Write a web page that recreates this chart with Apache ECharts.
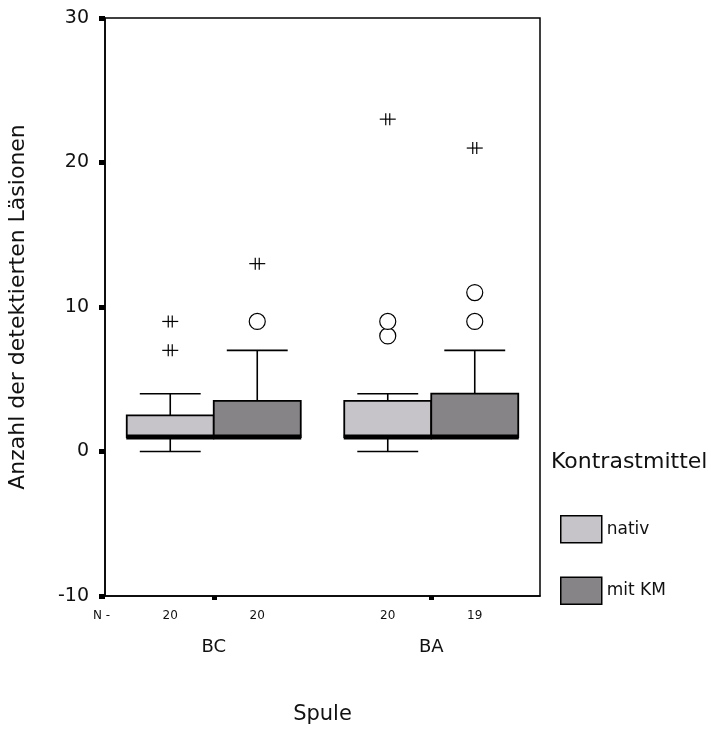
<!DOCTYPE html>
<html>
<head>
<meta charset="utf-8">
<script src="https://cdn.jsdelivr.net/npm/echarts@6/dist/echarts.min.js"></script>
<style>
  html, body { margin: 0; padding: 0; background: #fff; }
  #chart { width: 710px; height: 730px; }
</style>
</head>
<body>
<div id="chart"></div>
<script>
// Boxplot: Anzahl der detektierten Läsionen je Spule und Kontrastmittel

const categories = ['BC', 'BA'];
const groups = ['nativ', 'mit KM'];

// [min, Q1, median, Q3, max] per category
const boxNativ = [[0, 1, 1, 2.5, 4], [0, 1, 1, 3.5, 4]];
const boxMitKM = [[1, 1, 1, 3.5, 7], [1, 1, 1, 4, 7]];

// Ausreisser (Kreis) und Extremwerte (Stern) per category
const outNativ = [[], [8, 9]];
const extNativ = [[7, 9], [23]];
const outMitKM = [[9], [9, 11]];
const extMitKM = [[13], [21]];

const countsNativ = [20, 20];
const countsMitKM = [20, 19];

const yTicks = [-10, 0, 10, 20, 30];

const colorNativ = '#c6c4c8';
const colorMitKM = '#868486';
const fontFam = '"DejaVu Sans", Arial, sans-serif';
const boxHalf = 0.2; // half box width in category units

const chart = echarts.init(document.getElementById('chart'));

function renderBox(side) {
    return function (params, api) {
        const i = api.value(0);
        const halfW = api.size([boxHalf, 0])[0];
        const cx = api.coord([i + side * boxHalf, 0])[0];
        const y = k => api.coord([0, api.value(k)])[1];
        const yMin = y(1), yQ1 = y(2), yMed = y(3), yQ3 = y(4), yMax = y(5);
        const left = cx - halfW;
        const capHalf = halfW * 0.7;
        const line = { stroke: '#000', lineWidth: 1.6 };
        const children = [];
        if (yMax < yQ3) {
            children.push({ type: 'line', shape: { x1: cx, y1: yQ3, x2: cx, y2: yMax }, style: line });
            children.push({ type: 'line', shape: { x1: cx - capHalf, y1: yMax, x2: cx + capHalf, y2: yMax }, style: line });
        }
        if (yMin > yQ1) {
            children.push({ type: 'line', shape: { x1: cx, y1: yQ1, x2: cx, y2: yMin }, style: line });
            children.push({ type: 'line', shape: { x1: cx - capHalf, y1: yMin, x2: cx + capHalf, y2: yMin }, style: line });
        }
        children.push({
            type: 'rect',
            shape: { x: left, y: yQ3, width: halfW * 2, height: yQ1 - yQ3 },
            style: { fill: api.visual('color'), stroke: '#000', lineWidth: 1.8 }
        });
        children.push({
            type: 'rect',
            shape: { x: left - 0.5, y: yMed - 2.5, width: halfW * 2 + 1, height: 5 },
            style: { fill: '#000' }
        });
        return { type: 'group', children: children };
    };
}

function renderOutlier(params, api) {
    const p = api.coord([api.value(0), api.value(1)]);
    const kind = api.value(2);
    const s = { stroke: '#000', lineWidth: 1.2, fill: '#fff' };
    if (kind === 0) {
        return { type: 'circle', shape: { cx: p[0], cy: p[1], r: 8 }, style: s };
    }
    return {
        type: 'group',
        children: [
            { type: 'line', shape: { x1: p[0] - 8, y1: p[1], x2: p[0] + 8, y2: p[1] }, style: s },
            { type: 'line', shape: { x1: p[0] - 2, y1: p[1] - 6, x2: p[0] - 2, y2: p[1] + 6 }, style: s },
            { type: 'line', shape: { x1: p[0] + 2, y1: p[1] - 6, x2: p[0] + 2, y2: p[1] + 6 }, style: s }
        ]
    };
}

function boxData(boxes) {
    return boxes.map((b, i) => [i].concat(b));
}

function outlierData() {
    const rows = [];
    [[outNativ, extNativ, -1], [outMitKM, extMitKM, 1]].forEach(([outs, exts, side]) => {
        categories.forEach((c, i) => {
            outs[i].forEach(v => rows.push([i + side * boxHalf, v, 0]));
            exts[i].forEach(v => rows.push([i + side * boxHalf, v, 1]));
        });
    });
    return rows;
}

const boxCenters = [];
const boxCounts = [];
categories.forEach((c, i) => {
    boxCenters.push(i - boxHalf, i + boxHalf);
    boxCounts.push(countsNativ[i], countsMitKM[i]);
});

const option = {
    backgroundColor: '#fff',
    animation: false,
    textStyle: { fontFamily: fontFam, color: '#111' },
    title: {
        text: 'Kontrastmittel',
        left: 546,
        top: 446,
        textStyle: { fontFamily: fontFam, fontSize: 22, fontWeight: 'normal', color: '#111' }
    },
    legend: {
        data: groups,
        orient: 'vertical',
        left: 555,
        top: 510,
        itemWidth: 41,
        itemHeight: 27,
        itemGap: 33,
        icon: 'rect',
        itemStyle: { borderColor: '#000', borderWidth: 1.5 },
        textStyle: { fontFamily: fontFam, fontSize: 17, color: '#111' },
        selectedMode: false
    },
    grid: {
        left: 105,
        right: 170,
        top: 18,
        bottom: 134,
        outerBoundsMode: 'none',
        show: true,
        borderColor: '#000',
        borderWidth: 1.5
    },
    xAxis: [
        {
            type: 'value',
            min: -0.5,
            max: 1.5,
            position: 'bottom',
            name: 'Spule',
            nameLocation: 'middle',
            nameGap: 108,
            nameTextStyle: { fontFamily: fontFam, fontSize: 21, color: '#111' },
            axisLine: { show: true, onZero: false, lineStyle: { color: '#000', width: 1.5 } },
            axisTick: { show: true, customValues: [0, 1], length: 4, lineStyle: { color: '#000', width: 5 } },
            axisLabel: {
                customValues: [0, 1],
                formatter: v => categories[Math.round(v)],
                margin: 42,
                fontFamily: fontFam,
                fontSize: 18,
                color: '#111'
            },
            splitLine: { show: false }
        },
        {
            type: 'value',
            min: -0.5,
            max: 1.5,
            position: 'bottom',
            axisLine: { show: false, onZero: false },
            axisTick: { show: false },
            axisLabel: {
                customValues: boxCenters,
                formatter: v => {
                    const k = boxCenters.findIndex(c => Math.abs(c - v) < 1e-6);
                    return k >= 0 ? String(boxCounts[k]) : '';
                },
                margin: 14,
                fontFamily: fontFam,
                fontSize: 12,
                color: '#111'
            },
            splitLine: { show: false }
        }
    ],
    yAxis: {
        type: 'value',
        min: -10,
        max: 30,
        interval: 10,
        name: 'Anzahl der detektierten Läsionen',
        nameLocation: 'middle',
        nameGap: 76,
        nameTextStyle: { fontFamily: fontFam, fontSize: 22, color: '#111' },
        axisLine: { show: true, onZero: false, lineStyle: { color: '#000', width: 1.5 } },
        axisTick: { show: true, length: 6, lineStyle: { color: '#000', width: 5 } },
        axisLabel: {
            margin: 16,
            fontFamily: fontFam,
            fontSize: 19,
            color: '#111',
            formatter: v => (yTicks.indexOf(v) >= 0 ? String(v) : '')
        },
        splitLine: { show: false }
    },
    graphic: [
        {
            type: 'text',
            left: 93,
            top: 610,
            style: { text: 'N -', fontFamily: fontFam, fontSize: 12, fill: '#111' }
        }
    ],
    series: [
        {
            name: 'nativ',
            type: 'custom',
            renderItem: renderBox(-1),
            itemStyle: { color: colorNativ, borderColor: '#000', borderWidth: 1.5 },
            encode: { x: 0, y: [1, 2, 3, 4, 5] },
            data: boxData(boxNativ),
            z: 2
        },
        {
            name: 'mit KM',
            type: 'custom',
            renderItem: renderBox(1),
            itemStyle: { color: colorMitKM, borderColor: '#000', borderWidth: 1.5 },
            encode: { x: 0, y: [1, 2, 3, 4, 5] },
            data: boxData(boxMitKM),
            z: 2
        },
        {
            name: 'Ausreisser',
            type: 'custom',
            renderItem: renderOutlier,
            encode: { x: 0, y: 1 },
            data: outlierData(),
            z: 3
        }
    ]
};

chart.setOption(option);
</script>
</body>
</html>
